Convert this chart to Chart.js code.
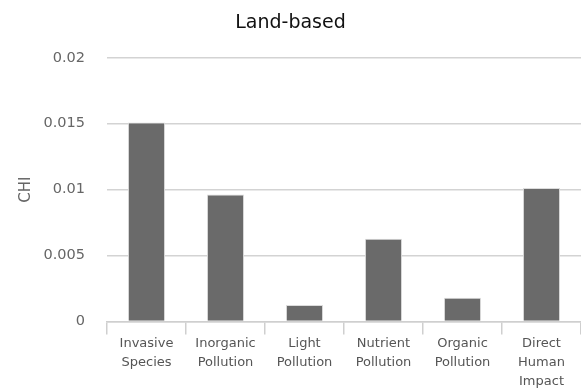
<!DOCTYPE html>
<html lang="en">

<head>
    <meta charset="UTF-8">
    <title>Land-based</title>
    <script src="https://cdn.jsdelivr.net/npm/chart.js"></script>
    <style>
        body {
            margin: 0;
            padding: 0;
            background: #fff;
        }

        #chiChart {
            display: block;
        }
    </style>
</head>

<body>
    <canvas id="chiChart" width="581" height="392"></canvas>

    <script>
        // Pressure categories (multi-line labels as drawn under the axis)
        const categories = [
            ["Invasive", "Species"],
            ["Inorganic", "Pollution"],
            ["Light", "Pollution"],
            ["Nutrient", "Pollution"],
            ["Organic", "Pollution"],
            ["Direct", "Human", "Impact"]
        ];
        const chiValues = [0.0151, 0.00964, 0.00125, 0.00627, 0.00181, 0.01012];
        const yTicks = [0, 0.005, 0.01, 0.015, 0.02];

        const ctx = document.getElementById("chiChart").getContext("2d");

        new Chart(ctx, {
            type: "bar",
            data: {
                labels: categories,
                datasets: [{
                    label: "CHI",
                    data: chiValues,
                    backgroundColor: "#6a6a6a",
                    borderColor: "#dcdcdc",
                    borderWidth: 1,
                    barPercentage: 0.47,
                    categoryPercentage: 1
                }]
            },
            options: {
                responsive: false,
                animation: false,
                layout: { padding: 0 },
                plugins: {
                    legend: { display: false },
                    tooltip: { enabled: false },
                    title: {
                        display: true,
                        text: "Land-based",
                        color: "#111",
                        font: { family: "DejaVu Sans", size: 19, weight: "normal" },
                        padding: { top: 12, bottom: 23 }
                    }
                },
                scales: {
                    x: {
                        grid: {
                            offset: true,
                            drawOnChartArea: false,
                            drawTicks: true,
                            tickLength: 13,
                            color: "#cfcfcf",
                            lineWidth: 1.5
                        },
                        border: { color: "#cfcfcf", width: 1.5 },
                        ticks: {
                            color: "#555",
                            padding: 0,
                            maxRotation: 0,
                            autoSkip: false,
                            font: { family: "DejaVu Sans", size: 13, lineHeight: 1.45 }
                        },
                        afterFit: (scale) => { scale.height = 70.5; }
                    },
                    y: {
                        min: 0,
                        max: 0.02,
                        afterBuildTicks: (scale) => {
                            scale.ticks = yTicks.map(v => ({ value: v }));
                        },
                        grid: {
                            drawTicks: false,
                            color: "#d3d3d3",
                            lineWidth: 1.5
                        },
                        border: { display: false },
                        ticks: {
                            color: "#666",
                            padding: 22,
                            font: { family: "DejaVu Sans", size: 14.5 },
                            callback: (v) => String(v)
                        },
                        title: {
                            display: true,
                            text: "CHI",
                            color: "#666",
                            font: { family: "DejaVu Sans", size: 15 },
                            padding: { top: 17, bottom: 0 }
                        },
                        afterFit: (scale) => { scale.width = 107; }
                    }
                }
            }
        });
    </script>
</body>

</html>
